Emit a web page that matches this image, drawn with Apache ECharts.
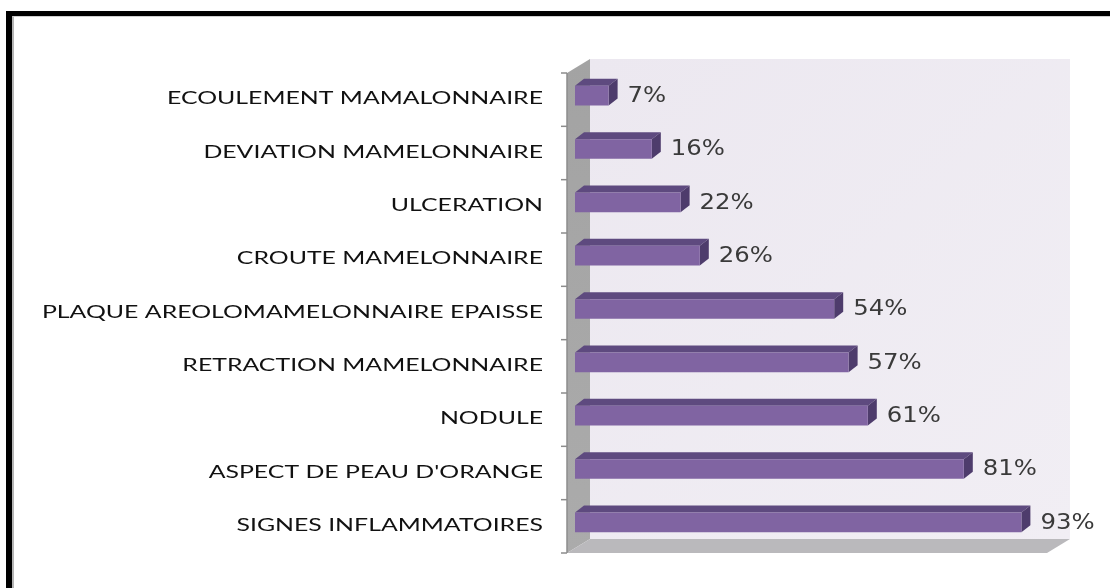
<!DOCTYPE html>
<html>
<head>
<meta charset="utf-8">
<script src="https://cdn.jsdelivr.net/npm/echarts@6/dist/echarts.min.js"></script>
<style>
  html, body { margin: 0; padding: 0; background: #fff; overflow: hidden; }
  #chart { width: 1110px; height: 588px; }
  #frame { position: absolute; left: 6px; top: 11px; width: 1300px; height: 800px;
           border-left: 6px solid #000; border-top: 5px solid #000; pointer-events: none; }
  #frame2 { position: absolute; left: 12px; top: 16px; width: 1300px; height: 800px;
            border-left: 2px solid #b5b5b5; border-top: 1px solid #d0d0d0; pointer-events: none; }
</style>
</head>
<body>
<div id="chart"></div>
<div id="frame"></div>
<div id="frame2"></div>
<script>
// signes cliniques, du haut vers le bas
var categories = [
    'ECOULEMENT MAMALONNAIRE',
    'DEVIATION MAMELONNAIRE',
    'ULCERATION',
    'CROUTE MAMELONNAIRE',
    'PLAQUE AREOLOMAMELONNAIRE EPAISSE',
    'RETRACTION MAMELONNAIRE',
    'NODULE',
    "ASPECT DE PEAU D'ORANGE",
    'SIGNES INFLAMMATOIRES'
];
var values = [7, 16, 22, 26, 54, 57, 61, 81, 93];

var chart = echarts.init(document.getElementById('chart'));

// profondeur des barres et des parois
var DX = 9, DY = 7;
var FRONT = [-8, 4], BACK = [15, -10];

//parois : mur gauche, sol, fond + axe
var renderWalls = function (params, api) {
    var cs = params.coordSys;
    var x0 = cs.x, y0 = cs.y, x1 = cs.x + cs.width, y1 = cs.y + cs.height;
    var children = [];
    children.push({
        type: 'rect',
        shape: {x: x0 + BACK[0], y: y0 + BACK[1], width: x1 - x0, height: y1 - y0},
        style: {fill: new echarts.graphic.LinearGradient(0, 0, 1, 1, [
            {offset: 0, color: '#ECE8F0'}, {offset: 1, color: '#F1EEF4'}])}
    });
    children.push({
        type: 'polygon',
        shape: {points: [[x0 + FRONT[0], y0 + FRONT[1]], [x0 + BACK[0], y0 + BACK[1]],
            [x0 + BACK[0], y1 + BACK[1]], [x0 + FRONT[0], y1 + FRONT[1]]]},
        style: {fill: new echarts.graphic.LinearGradient(0, 0, 0, 1, [
            {offset: 0, color: '#A3A3A3'}, {offset: 1, color: '#ABABAB'}])}
    });
    children.push({
        type: 'polygon',
        shape: {points: [[x0 + FRONT[0], y1 + FRONT[1]], [x0 + BACK[0], y1 + BACK[1]],
            [x1 + BACK[0], y1 + BACK[1]], [x1 + FRONT[0], y1 + FRONT[1]]]},
        style: {fill: '#BAB9BC'}
    });
    var ax = x0 + FRONT[0];
    children.push({
        type: 'line',
        shape: {x1: ax, y1: y0 + FRONT[1], x2: ax, y2: y1 + FRONT[1]},
        style: {stroke: '#8C8C8C', lineWidth: 1.5}
    });
    var n = categories.length;
    for (var i = 0; i <= n; i++) {
        var ty = y0 + FRONT[1] + (y1 - y0) * i / n;
        children.push({
            type: 'line',
            shape: {x1: ax - 6, y1: ty, x2: ax, y2: ty},
            style: {stroke: '#8C8C8C', lineWidth: 1.5}
        });
    }
    return {type: 'group', children: children};
};

//barres en 3D + libellés (texte étiré comme dans l'original)
var renderBar = function (params, api) {
    var v = api.value(0);
    var idx = api.value(1);
    var start = api.coord([0, idx]);
    var end = api.coord([v, idx]);
    var bandH = api.size([0, 1])[1];
    var h = bandH * 0.37;
    var xa = start[0], xb = end[0];
    var yt = end[1] - h / 2, yb = end[1] + h / 2;
    return {
        type: 'group',
        children: [
            {type: 'polygon', shape: {points: [[xa, yt], [xb, yt], [xb + DX, yt - DY], [xa + DX, yt - DY]]},
                style: {fill: '#5E4A7F'}},
            {type: 'polygon', shape: {points: [[xb, yt], [xb + DX, yt - DY], [xb + DX, yb - DY], [xb, yb]]},
                style: {fill: '#4E3C6C'}},
            {type: 'rect', shape: {x: xa, y: yt, width: xb - xa, height: h},
                style: {fill: '#8064A2'}},
            {type: 'text', x: xb + 19, y: end[1] + 1, scaleX: 1.16,
                style: {text: v + '%', fill: '#3A3A3A', font: '21px "DejaVu Sans"',
                    align: 'left', verticalAlign: 'middle'}},
            {type: 'text', x: xa - 32, y: end[1] + 3, scaleX: 1.38,
                style: {text: categories[idx], fill: '#111', font: '18px Lato',
                    align: 'right', verticalAlign: 'middle'}}
        ]
    };
};

var barData = [];
for (var i = 0; i < values.length; i++) {
    barData.push([values[i], i]);
}

chart.setOption({
    animation: false,
    grid: {left: 575, right: 55, top: 69, bottom: 39},
    xAxis: {
        type: 'value', min: 0, max: 100, show: false
    },
    yAxis: {
        type: 'category', data: categories, inverse: true,
        axisLine: {show: false}, axisTick: {show: false}, axisLabel: {show: false}
    },
    series: [
        {type: 'custom', renderItem: renderWalls, data: [[0, 0]], z: 1, silent: true,
            encode: {x: 0, y: 1}, clip: false},
        {type: 'custom', renderItem: renderBar, data: barData, z: 2, silent: true,
            encode: {x: 0, y: 1}, clip: false}
    ]
});
</script>
</body>
</html>
